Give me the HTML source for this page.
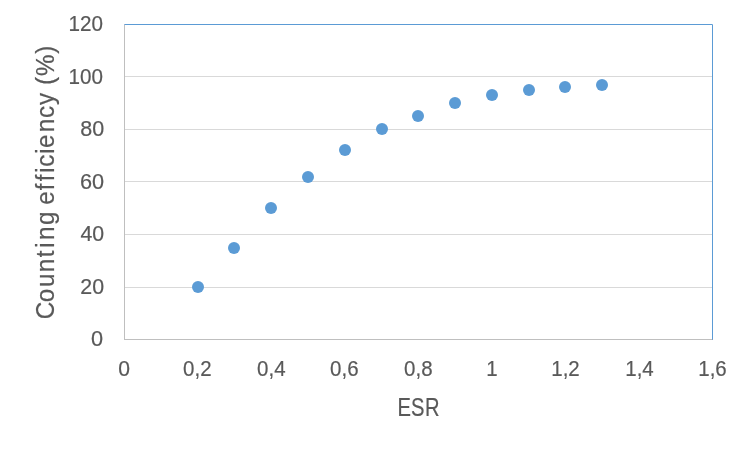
<!DOCTYPE html>
<html lang="en">
<head>
<meta charset="utf-8">
<title>Counting efficiency vs ESR</title>
<style>
html,body{margin:0;padding:0;background:#fff;}
body{width:750px;height:450px;overflow:hidden;}
svg{display:block;}
text{font-family:"Liberation Sans",sans-serif;fill:#595959;stroke:#595959;stroke-width:0.2px;}
.tick{font-size:21.8px;}
.title{font-size:25.2px;}
.grid{stroke:#d9d9d9;stroke-width:1;shape-rendering:crispEdges;}
.axis{stroke:#bfbfbf;stroke-width:1;shape-rendering:crispEdges;}
.frame{stroke:#5b9bd5;stroke-width:1;fill:none;shape-rendering:crispEdges;}
.pt{fill:#5b9bd5;}
</style>
</head>
<body>
<svg width="750" height="450" viewBox="0 0 750 450">
<rect x="0" y="0" width="750" height="450" fill="#ffffff"/>
<g>
<line class="grid" x1="125" x2="712" y1="287.5" y2="287.5"/>
<line class="grid" x1="125" x2="712" y1="234.5" y2="234.5"/>
<line class="grid" x1="125" x2="712" y1="181.5" y2="181.5"/>
<line class="grid" x1="125" x2="712" y1="129.5" y2="129.5"/>
<line class="grid" x1="125" x2="712" y1="76.5" y2="76.5"/>
</g>
<g>
<line class="axis" x1="124.5" x2="124.5" y1="25" y2="340"/>
<line class="axis" x1="124" x2="712" y1="339.5" y2="339.5"/>
<line class="frame" x1="125" x2="712" y1="24.5" y2="24.5"/>
<line class="frame" x1="712.5" x2="712.5" y1="25" y2="339"/>
<rect x="124" y="24" width="1" height="1" fill="#93b5d9" shape-rendering="crispEdges"/>
<rect x="712" y="24" width="1" height="1" fill="#8ab8e2" shape-rendering="crispEdges"/>
<rect x="712" y="339" width="1" height="1" fill="#7d9dc2" shape-rendering="crispEdges"/>
</g>
<g>
<circle class="pt" cx="198.00" cy="287.00" r="6"/>
<circle class="pt" cx="234.00" cy="248.00" r="6"/>
<circle class="pt" cx="271.00" cy="208.00" r="6"/>
<circle class="pt" cx="308.00" cy="177.00" r="6"/>
<circle class="pt" cx="345.00" cy="150.00" r="6"/>
<circle class="pt" cx="382.00" cy="129.00" r="6"/>
<circle class="pt" cx="418.00" cy="116.00" r="6"/>
<circle class="pt" cx="455.00" cy="103.00" r="6"/>
<circle class="pt" cx="492.00" cy="95.00" r="6"/>
<circle class="pt" cx="529.00" cy="90.00" r="6"/>
<circle class="pt" cx="565.00" cy="87.00" r="6"/>
<circle class="pt" cx="602.00" cy="85.00" r="6"/>
</g>
<g>
<text class="tick" transform="translate(68.43 31.10) scale(0.9480 1)">120</text>
<text class="tick" transform="translate(68.43 84.00) scale(0.9480 1)">100</text>
<text class="tick" transform="translate(80.16 136.10) scale(0.9889 1)">80</text>
<text class="tick" transform="translate(80.00 189.00) scale(0.9960 1)">60</text>
<text class="tick" transform="translate(80.41 241.10) scale(0.9783 1)">40</text>
<text class="tick" transform="translate(80.32 294.10) scale(0.9820 1)">20</text>
<text class="tick" transform="translate(91.05 346.10) scale(0.9980 1)">0</text>
</g>
<g>
<text class="tick" transform="translate(124.25 375.7) scale(0.97 1)" text-anchor="middle">0</text>
<text class="tick" transform="translate(197.30 375.7) scale(0.94 1)" text-anchor="middle">0,2</text>
<text class="tick" transform="translate(271.30 375.7) scale(0.94 1)" text-anchor="middle">0,4</text>
<text class="tick" transform="translate(344.30 375.7) scale(0.94 1)" text-anchor="middle">0,6</text>
<text class="tick" transform="translate(418.30 375.7) scale(0.94 1)" text-anchor="middle">0,8</text>
<text class="tick" transform="translate(492.00 375.7) scale(0.94 1)" text-anchor="middle">1</text>
<text class="tick" transform="translate(565.50 375.7) scale(0.94 1)" text-anchor="middle">1,2</text>
<text class="tick" transform="translate(639.50 375.7) scale(0.94 1)" text-anchor="middle">1,4</text>
<text class="tick" transform="translate(712.50 375.7) scale(0.94 1)" text-anchor="middle">1,6</text>
</g>
<text class="title" transform="translate(399 415.6) scale(0.8 1)" x="-1.90 14.91 32.51" y="0">ESR</text>
<text class="title" transform="translate(53.9 317.0) rotate(-90) scale(0.96 1)" x="-2.28 15.34 31.24 46.57 62.13 72.15 80.11 95.78 109.79 116.92 132.08 141.30 150.23 156.47 170.12 175.93 192.40 207.35 220.88 233.48 241.55 250.98 274.32" y="0">Counting efficiency (%)</text>
</svg>
</body>
</html>
